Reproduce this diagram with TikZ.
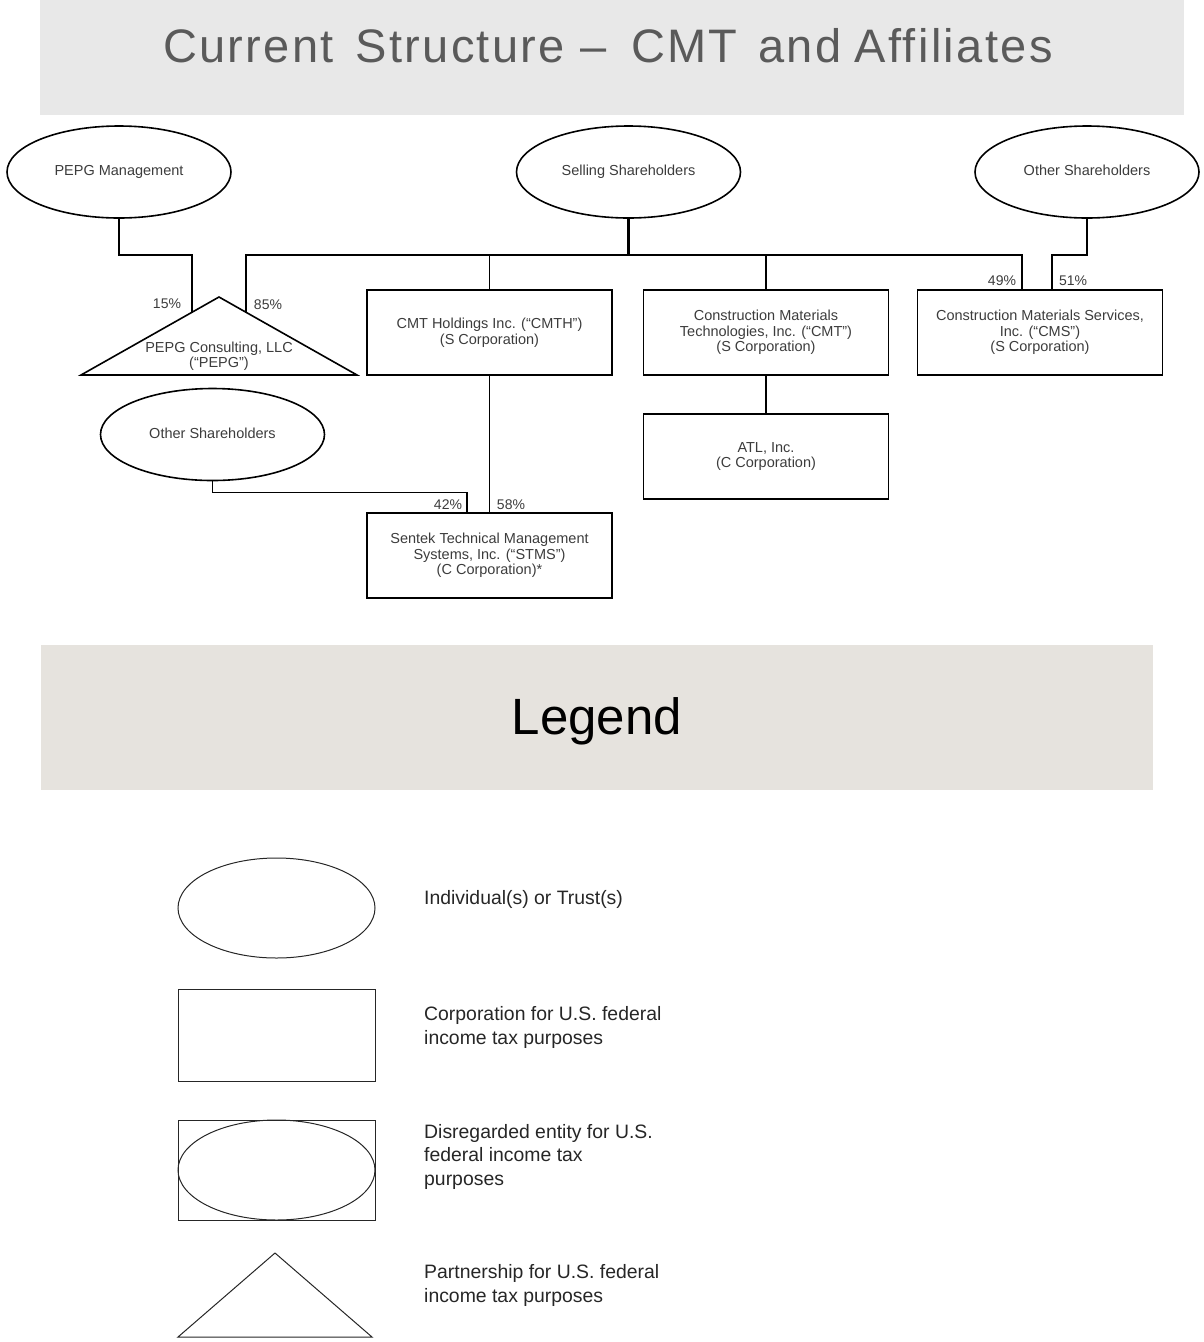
\documentclass[tikz,border=0pt]{standalone}
\usepackage{fontspec}
\setmainfont{Liberation Sans}
\newfontfamily\titlefont[LetterSpace=5]{Liberation Sans}
\usetikzlibrary{shapes.geometric}
\definecolor{titlebg}{HTML}{E8E8E8}
\definecolor{legendbg}{HTML}{E6E3DE}
\definecolor{titletxt}{HTML}{5A5A5A}
\definecolor{txt}{HTML}{3C3C3C}
\definecolor{legtxt}{HTML}{262626}
\begin{document}
\begin{tikzpicture}[x=1pt,y=-1pt,
  ent/.style={draw, line width=1.6pt, inner sep=0pt, outer sep=0pt, text=txt,
    font=\fontsize{14.5}{15.5}\selectfont, align=center},
  corp/.style={ent, rectangle, minimum width=245pt, minimum height=85pt},
  indiv/.style={ent, ellipse, minimum width=224pt, minimum height=92pt},
  pct/.style={inner sep=0pt, text=txt, font=\fontsize{14}{15}\selectfont},
  conn/.style={line width=1.6pt},
  legshape/.style={draw=black!85, line width=1pt, inner sep=0pt, outer sep=0pt, minimum width=197pt},
  legtext/.style={anchor=base west, inner sep=0pt, align=left, text=legtxt,
    font=\fontsize{19.4}{23.5}\selectfont}
]
\useasboundingbox (0,0) rectangle (1204,1342);
% title band
\fill[titlebg] (40,0) rectangle (1184,115);
\node[anchor=base, inner sep=0pt, text=titletxt, font=\titlefont\fontsize{47}{50}\selectfont] (title) at (608,62) {Current\hspace{21.5pt}Structure\hspace{15.5pt}–\hspace{24.5pt}CMT\hspace{20.5pt}and\hspace{13.5pt}Affiliates};
% legend band
\fill[legendbg] (41,645) rectangle (1153,790);
\node[anchor=base, inner sep=0pt, text=black, font=\fontsize{51}{55}\selectfont] (legtitle) at (597,734) {Legend};

% individuals
\node[indiv] (pm) at (119,172) {PEPG Management\vphantom{(}};
\node[indiv] (ss) at (628.5,172) {Selling Shareholders\vphantom{(}};
\node[indiv] (osr) at (1087,172) {Other Shareholders\vphantom{(}};
\node[indiv] (osl) at (212.5,434.5) {Other Shareholders\vphantom{(}};

% partnership triangle
\draw[line width=1.6pt] (81,375) -- (219,297) -- (357,375) -- cycle;
\node[inner sep=0pt, text=txt, align=center, font=\fontsize{14.5}{15.5}\selectfont] (pepg) at (219,356) {PEPG Consulting, LLC\\(``PEPG'')};
\coordinate (pepgL) at (192,312.3);
\coordinate (pepgR) at (246,312.4);

% corporations
\node[corp] (cmth) at (489.5,332.5) {CMT Holdings Inc. (``CMTH'')\\(S Corporation)};
\node[corp] (cmt) at (766,332.5) {Construction Materials\\Technologies, Inc. (``CMT'')\\(S Corporation)};
\node[corp] (cms) at (1040,332.5) {Construction Materials Services,\\Inc. (``CMS'')\\(S Corporation)};
\node[corp] (atl) at (766,456.5) {ATL, Inc.\\(C Corporation)};
\node[corp] (stms) at (489.5,555.5) {Sentek Technical Management\\Systems, Inc. (``STMS'')\\(C Corporation)*};

\coordinate (busy) at (0,255);
\coordinate (cms49) at (1022,290);
\coordinate (cms51) at (1052,290);
\coordinate (stms42) at (467,513);

% connectors
\draw[conn] (pm.south) -- (pm.south |- busy) -| (pepgL);
\draw[conn] (pepgR) -- (pepgR |- busy) -| (cms49);
\draw[line width=3pt] (ss.south) -- (ss.south |- busy);
\draw[conn] (cmth.north |- busy) -- (cmth.north);
\draw[conn] (cmt.north |- busy) -- (cmt.north);
\draw[conn] (osr.south) -- (osr.south |- busy) -| (cms51);
\draw[conn] (cmth.south) -- (stms.north);
\draw[conn] (osl.south) -- ++(0,12) -| (stms42);
\draw[conn] (cmt.south) -- (atl.north);

% percentages
\node[pct] (p15) at (167,304) {15\%};
\node[pct] (p85) at (268,305) {85\%};
\node[pct] (p49) at (1002,281) {49\%};
\node[pct] (p51) at (1073,281) {51\%};
\node[pct] (p42) at (448,505) {42\%};
\node[pct] (p58) at (511,505) {58\%};

% legend shapes
\node[legshape, ellipse, minimum height=100pt] (lg1) at (276.5,908) {};
\node[legshape, rectangle, minimum height=92pt] (lg2) at (276.5,1035) {};
\node[legshape, rectangle, minimum height=100pt] (lg3) at (276.5,1170) {};
\node[legshape, ellipse, minimum height=100pt] (lg3e) at (276.5,1170) {};
\draw[draw=black!85, line width=1pt] (178,1337) -- (275,1253) -- (372,1337) -- cycle;

% legend texts (base anchor = baseline of last line)
\node[legtext] (lt1) at (424,904) {Individual(s) or Trust(s)};
\node[legtext] (lt2) at (424,1044) {Corporation for U.S. federal\\income tax purposes};
\node[legtext] (lt3) at (424,1185) {Disregarded entity for U.S.\\federal income tax\\purposes};
\node[legtext] (lt4) at (424,1302) {Partnership for U.S. federal\\income tax purposes};
\end{tikzpicture}
\end{document}
